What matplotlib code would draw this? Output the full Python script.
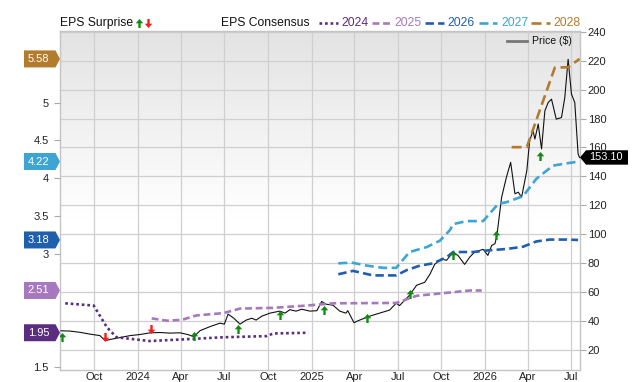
import numpy as np
import pandas as pd
import matplotlib
matplotlib.use('Agg')
import matplotlib.pyplot as plt
import matplotlib.dates as mdates
import matplotlib.transforms as mtransforms
from matplotlib.path import Path
from matplotlib.lines import Line2D
from matplotlib.patches import Polygon
from matplotlib.colors import LinearSegmentedColormap

plt.rcParams['font.family'] = ['Liberation Sans', 'DejaVu Sans']

# price ($)
price_dates = ['2023-07-23', '2023-08-11', '2023-09-02', '2023-09-22', '2023-10-13', '2023-10-24',
               '2023-11-08', '2023-11-24', '2023-12-16', '2024-01-05', '2024-01-27', '2024-02-17',
               '2024-03-09', '2024-03-30', '2024-04-15', '2024-04-28', '2024-05-11', '2024-06-01',
               '2024-06-22', '2024-07-01', '2024-07-09', '2024-07-21', '2024-08-03', '2024-08-16',
               '2024-08-28', '2024-09-06', '2024-09-18', '2024-10-05', '2024-10-26', '2024-11-06',
               '2024-11-16', '2024-11-29', '2024-12-11', '2024-12-28', '2025-01-12', '2025-01-22',
               '2025-01-31', '2025-02-15', '2025-03-01', '2025-03-14', '2025-03-18', '2025-03-31',
               '2025-04-12', '2025-05-03', '2025-05-24', '2025-06-14', '2025-06-28', '2025-07-05',
               '2025-07-26', '2025-08-10', '2025-08-27', '2025-09-07', '2025-09-17', '2025-10-01',
               '2025-10-12', '2025-10-26', '2025-11-05', '2025-11-19', '2025-11-30', '2025-12-10',
               '2025-12-28', '2026-01-07', '2026-01-15', '2026-01-22', '2026-01-26', '2026-02-01',
               '2026-02-05', '2026-02-15', '2026-02-24', '2026-03-05', '2026-03-12', '2026-03-19',
               '2026-03-30', '2026-04-05', '2026-04-12', '2026-04-16', '2026-04-23', '2026-04-30',
               '2026-05-07', '2026-05-14', '2026-05-21', '2026-05-31', '2026-06-11', '2026-06-18',
               '2026-06-25', '2026-07-02', '2026-07-09', '2026-07-16', '2026-07-19']
price_values = [33.3, 33.1, 32.2, 31.0, 30.0, 26.5,
                27.6, 28.6, 30.0, 30.7, 31.9, 32.1,
                31.7, 31.9, 30.7, 29.3, 33.4, 36.2,
                38.6, 37.9, 44.8, 42.0, 37.9, 40.7,
                42.0, 40.7, 43.4, 45.5, 46.9, 45.5,
                47.9, 46.9, 48.2, 46.9, 47.2, 53.6,
                51.7, 51.0, 46.9, 45.5, 47.2, 38.9,
                40.7, 43.4, 45.5, 47.6, 52.4, 50.7,
                57.9, 64.8, 66.8, 72.4, 79.2, 83.0,
                82.0, 87.7, 85.4, 79.2, 84.3, 87.7,
                89.6, 85.4, 92.3, 93.5, 99.2, 115.1,
                125.6, 139.4, 149.7, 128.0, 129.1, 125.6,
                144.0, 164.7, 171.6, 165.8, 176.2, 159.0,
                185.3, 191.1, 193.4, 179.6, 180.7, 194.5,
                221.0, 196.9, 191.1, 155.5, 153.1]
last_price = 153.10

# EPS consensus by fiscal year
eps_2024_dates = ['2023-08-01', '2023-09-30', '2023-10-28', '2023-11-17', '2024-01-26', '2024-03-30',
                  '2024-06-29', '2024-09-28', '2024-10-12', '2024-12-25']
eps_2024 = [2.34, 2.31, 2.02, 1.89, 1.84, 1.86, 1.89, 1.905, 1.94, 1.95]

eps_2025_dates = ['2024-01-30', '2024-03-02', '2024-04-02', '2024-05-04', '2024-06-29', '2024-08-03',
                  '2024-10-12', '2024-12-21', '2025-02-15', '2025-06-28', '2025-08-10', '2025-09-28',
                  '2025-11-30', '2025-12-25']
eps_2025 = [2.14, 2.11, 2.12, 2.18, 2.21, 2.27, 2.28, 2.31, 2.34, 2.345, 2.44, 2.47, 2.51, 2.51]

eps_2026_dates = ['2025-02-26', '2025-03-29', '2025-05-10', '2025-06-28', '2025-07-20', '2025-08-17',
                  '2025-09-14', '2025-10-12', '2025-10-26', '2025-12-07', '2026-01-04', '2026-02-15',
                  '2026-03-22', '2026-04-19', '2026-05-17', '2026-06-21', '2026-07-16']
eps_2026 = [2.725, 2.77, 2.71, 2.71, 2.78, 2.84, 2.87, 2.95, 3.02, 3.02, 3.04, 3.06,
            3.09, 3.16, 3.185, 3.185, 3.18]

eps_2027_dates = ['2025-02-26', '2025-03-26', '2025-04-27', '2025-06-01', '2025-06-28', '2025-07-26',
                  '2025-08-31', '2025-09-28', '2025-10-19', '2025-10-26', '2025-11-23', '2025-12-28',
                  '2026-01-29', '2026-02-15', '2026-03-22', '2026-04-19', '2026-05-24', '2026-06-21',
                  '2026-07-19']
eps_2027 = [2.87, 2.88, 2.84, 2.81, 2.81, 3.02, 3.085, 3.17, 3.31, 3.39, 3.43, 3.43,
            3.66, 3.68, 3.76, 3.99, 4.165, 4.195, 4.22]

eps_2028_dates = ['2026-02-26', '2026-03-30', '2026-05-28', '2026-06-25', '2026-07-19']
eps_2028 = [4.41, 4.41, 5.465, 5.47, 5.58]

years = ['2024', '2025', '2026', '2027', '2028']
year_colors = ['#5b2d80', '#a679bf', '#1f5fae', '#3ea5d3', '#b27b2d']
current_eps = [1.95, 2.51, 3.18, 4.22, 5.58]

# EPS surprise arrows (placed on price scale)
surprise_dates = ['2023-07-25', '2023-10-23', '2024-01-29', '2024-04-28', '2024-07-29', '2024-10-27',
                  '2025-01-27', '2025-04-27', '2025-07-27', '2025-10-26', '2026-01-25', '2026-04-26']
surprise_values = [29.2, 28.7, 34.5, 29.6, 34.5, 44.1, 47.6, 42.0, 58.4, 85.4, 99.2, 154.3]
surprise_up = [True, False, False, True, True, True, True, True, True, True, True, True]

W, H = 640, 382
fig = plt.figure(figsize=(W / 100, H / 100), dpi=100)
ax = fig.add_axes([60 / W, 12 / H, 520 / W, 339 / H])
ax_eps = ax.twinx()
ax.yaxis.tick_right()
ax_eps.yaxis.tick_left()

# price line
ax.plot(pd.to_datetime(price_dates), price_values, color='#111111', lw=0.8, zorder=3)

# consensus lines
eps_dates = [eps_2024_dates, eps_2025_dates, eps_2026_dates, eps_2027_dates, eps_2028_dates]
eps_vals = [eps_2024, eps_2025, eps_2026, eps_2027, eps_2028]
styles = [(0, (1, 1.1)), (0, (2.6, 1.4)), (0, (3.2, 1.6)), (0, (3.4, 1.7)), (0, (3.8, 1.9))]
for d, v, c, ls in zip(eps_dates, eps_vals, year_colors, styles):
    ax_eps.plot(pd.to_datetime(d), v, color=c, lw=1.9, linestyle=ls, zorder=2)

# arrows
up_arrow = Path([(0, 0.5), (0.42, 0.02), (0.13, 0.02), (0.13, -0.5), (-0.13, -0.5),
                 (-0.13, 0.02), (-0.42, 0.02), (0, 0.5)])
down_arrow = Path([(x, -y) for x, y in up_arrow.vertices])
sd = pd.to_datetime(surprise_dates)
for d, v, up in zip(sd, surprise_values, surprise_up):
    ax_eps.plot([d], [v], linestyle='none', marker=up_arrow if up else down_arrow,
                markersize=6.5, color='#118a11' if up else '#ff1a1a', mew=0,
                transform=ax.transData, zorder=5)

xmin, xmax = pd.Timestamp('2023-07-21'), pd.Timestamp('2026-07-20')
ax.set_xlim(xmin, xmax)
ax.set_ylim(6.2, 240.5)
ax_eps.set_ylim(1.456, 5.95)

# background gradient
cmap = LinearSegmentedColormap.from_list('bg', [(0, '#ffffff'), (0.45, '#ffffff'), (1, '#e3e3e3')])
grad = np.linspace(0, 1, 256).reshape(-1, 1)
ax.imshow(grad, cmap=cmap, extent=[0, 1, 0, 1], transform=ax.transAxes, aspect='auto',
          origin='lower', zorder=0)
ax.set_xlim(xmin, xmax)
ax.set_ylim(6.2, 240.5)

# ticks / grid
ax.xaxis.set_major_locator(mdates.MonthLocator(bymonth=[1, 4, 7, 10]))
ax.xaxis.set_major_formatter(plt.FuncFormatter(
    lambda x, pos: str(mdates.num2date(x).year) if mdates.num2date(x).month == 1
    else mdates.num2date(x).strftime('%b')))
ax.set_yticks(np.arange(20, 241, 20))
# left ticks hidden behind the value tags are left out
eps_ticks = [t for t in np.arange(1.5, 5.6, 0.5) if min(abs(t - c) for c in current_eps) > 0.1]
ax_eps.set_yticks(eps_ticks)
ax_eps.yaxis.set_major_formatter(plt.FuncFormatter(lambda v, pos: '%g' % v))
ax.grid(True, color='#cfcfcf', lw=0.9, zorder=1)
ax.set_axisbelow(True)
ax.tick_params(axis='x', length=0, pad=1.5, labelsize=8, labelcolor='#222222')
ax.tick_params(axis='y', length=4, width=0.8, color='#aaaaaa', pad=1.5, labelsize=8, labelcolor='#222222')
ax_eps.tick_params(axis='y', length=4, width=0.8, color='#aaaaaa', pad=4, labelsize=8, labelcolor='#222222')
for s in ax.spines.values():
    s.set_color('#c4c4c4')
    s.set_linewidth(1)
for s in ax_eps.spines.values():
    s.set_visible(False)

# left value tags
left_base = mtransforms.blended_transform_factory(ax_eps.transAxes, ax_eps.transData)
for val, col in zip(current_eps, year_colors):
    tr = fig.dpi_scale_trans + mtransforms.ScaledTranslation(0, val, left_base)
    pts = [(-0.36, -0.085), (-0.045, -0.085), (0, 0), (-0.045, 0.085), (-0.36, 0.085)]
    fig.add_artist(Polygon(pts, closed=True, transform=tr, facecolor=col, edgecolor='none', zorder=10))
    fig.text(-0.215, 0, '%.2f' % val, transform=tr, color='white', fontsize=8,
             ha='center', va='center', zorder=11)

# last price tag
right_base = mtransforms.blended_transform_factory(ax.transAxes, ax.transData)
tr = fig.dpi_scale_trans + mtransforms.ScaledTranslation(1, last_price, right_base)
pts = [(0, 0), (0.06, 0.072), (0.48, 0.072), (0.48, -0.072), (0.06, -0.072)]
fig.add_artist(Polygon(pts, closed=True, transform=tr, facecolor='black', edgecolor='none', zorder=10))
fig.text(0.255, 0, '%.2f' % last_price, transform=tr, color='white', fontsize=7.8,
         ha='center', va='center', zorder=11)

# top legend
def fx(x):
    return x / W


def fy(y):
    return 1 - y / H


ty = 23
fig.text(fx(60), fy(ty), 'EPS Surprise', fontsize=8.7, color='#111111', va='center')
fig.add_artist(Line2D([fx(138.5)], [fy(ty)], marker=up_arrow, markersize=6.5, color='#118a11', mew=0,
                      linestyle='none', transform=fig.transFigure))
fig.add_artist(Line2D([fx(148)], [fy(ty)], marker=down_arrow, markersize=6.5, color='#ff1a1a', mew=0,
                      linestyle='none', transform=fig.transFigure))
fig.text(fx(221), fy(ty), 'EPS Consensus', fontsize=8.7, color='#111111', va='center')
line_x = [319, 371.5, 425, 478.5, 531]
for lx, yr, col, ls in zip(line_x, years, year_colors, styles):
    fig.add_artist(Line2D([fx(lx), fx(lx + 18.5)], [fy(ty), fy(ty)], color=col, lw=1.9,
                          linestyle=ls, transform=fig.transFigure))
    fig.text(fx(lx + 22.5), fy(ty), yr, fontsize=8.7, color=col, va='center')

# price legend
fig.add_artist(Line2D([fx(507), fx(527)], [fy(41), fy(41)], color='#777777', lw=2,
                      transform=fig.transFigure))
fig.text(fx(532), fy(41), 'Price ($)', fontsize=7.6, color='#111111', va='center')

fig.savefig('out.png', dpi=100)
